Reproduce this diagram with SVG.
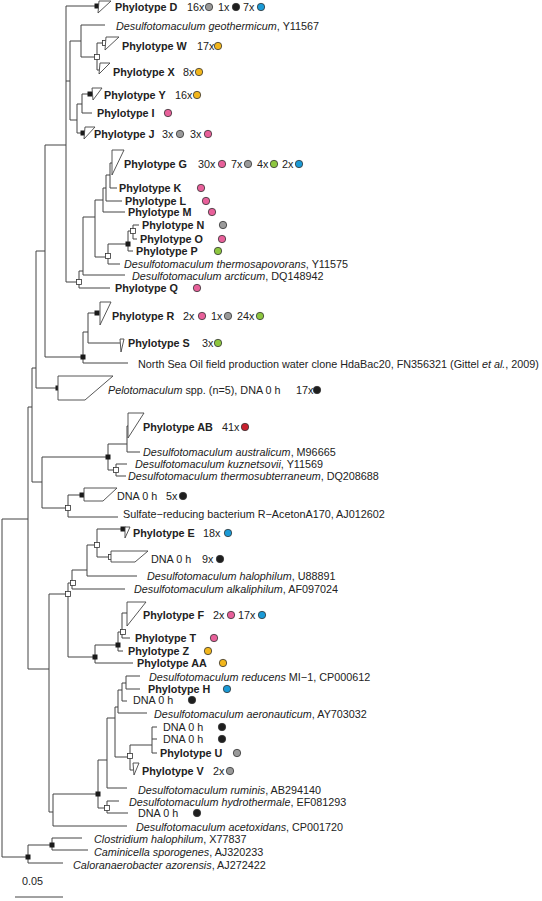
<svg xmlns="http://www.w3.org/2000/svg" width="542" height="901" viewBox="0 0 542 901">
<style>
text{font-family:"Liberation Sans",Arial,sans-serif;font-size:10.8px;fill:#222}
.b{font-weight:bold}
.i{font-style:italic}
.br{fill:none;stroke:#444;stroke-width:1}
.tri{fill:#fff;stroke:#444;stroke-width:0.9}
.sf{fill:#1a1a1a}
.so{fill:#fff;stroke:#333;stroke-width:0.8}
circle{stroke:#333;stroke-width:0.8}
.pk{fill:#e8609a}.gy{fill:#9a9a9a}.bk{fill:#1e1e1e}.bl{fill:#1a9ad6}.ye{fill:#f2b61c}.gn{fill:#8dc63f}.rd{fill:#c8202e}
</style>
<g id="connectors">
<path class="br" d="M66 6V282M66 6H97M66 81H70M70 41V120M70 41H81M81 25V57M81 25H105M81 57H97M97 43V70M97 43H105M97 70H100M70 120H77M77 104V133M77 104H82M82 94V113M82 94H90M82 113H92M77 133H83
M66 282H79M79 271V288M79 288H110M79 271H83M83 217V275M83 275H125M83 217H95M95 200V257M95 200H103M95 257H108M103 188V212M103 212H125M103 188H106M106 175V201M106 201H122M106 175H110M110 163V188M110 188H117M110 163H112
M108 244V264M108 264H120M108 244H128M128 231V251M128 251H133M128 231H133M133 225V239M133 225H139M133 239H137
M45 145V357M45 145H66M45 357H83M83 332V363M83 363H128M83 332H88M88 313V343M88 313H97M88 343H120
M36 251V388M36 251H45M36 388H58M32 368V482M32 368H36M28 407V669M28 407H32M2 519V857M2 519H28M2 857H28
M32 482H42M42 457V508M42 457H108M42 508H68M108 444V470M108 444H127M127 426V452M127 452H140M127 426H128M108 470H116M116 464V476M116 464H127M116 476H126M68 495V517M68 495H82M68 517H118
M28 669H49M49 594V812M49 594H68M68 583V657M68 583H72M72 570V589M72 570H87M87 545V576M87 576H137M87 545H97M97 529V557M97 529H123M97 557H111M72 589H125
M68 657H95M95 645V663M95 663H133M95 645H118M118 632V651M118 651H123M118 632H122M122 613V638M122 638H130M122 613H127
M49 812H53M53 794V826M53 826H127M53 794H98M98 760V808M98 760H107M107 718V788M107 788H127M98 808H107M107 801V813M107 801H119M107 813H128
M107 718H115M115 707V757M115 707H118M118 690V713M118 713H147M118 690H122M122 683V701M122 701H127M122 683H126M126 676V689M126 676H140M126 689H140
M115 757H130M130 745V770M130 770H133M130 745H152M152 727V753M152 727H157M152 739H157M152 753H157
M28 845V863M28 845H52M28 863H63M52 838V850M52 838H82M52 850H88"/>
</g>
<g id="internal-nodes">
<rect class="sf" x="94.5" y="3.5" width="5" height="5"/>
<rect class="so" x="94.5" y="54.5" width="5" height="5"/>
<rect class="so" x="102.5" y="40.5" width="5" height="5"/>
<rect class="sf" x="87.5" y="91.5" width="5" height="5"/>
<rect class="sf" x="80.5" y="130.5" width="5" height="5"/>
<rect class="so" x="76.5" y="279.5" width="5" height="5"/>
<rect class="so" x="105.5" y="253.5" width="5" height="5"/>
<rect class="sf" x="125.5" y="241.5" width="5" height="5"/>
<rect class="so" x="130.5" y="228.5" width="5" height="5"/>
<rect class="sf" x="94.5" y="310.5" width="5" height="5"/>
<rect class="sf" x="80.5" y="354.5" width="5" height="5"/>
<rect class="sf" x="55.5" y="385.5" width="5" height="5"/>
<rect class="sf" x="105.5" y="454.5" width="5" height="5"/>
<rect class="so" x="113.5" y="467.5" width="5" height="5"/>
<rect class="sf" x="79.5" y="492.5" width="5" height="5"/>
<rect class="so" x="65.5" y="505.5" width="5" height="5"/>
<rect class="sf" x="120.5" y="526.5" width="5" height="5"/>
<rect class="so" x="94.5" y="542.5" width="5" height="5"/>
<rect class="so" x="108.5" y="554.5" width="5" height="5"/>
<rect class="so" x="70.5" y="580.5" width="5" height="5"/>
<rect class="so" x="65.5" y="591.5" width="5" height="5"/>
<rect class="sf" x="92.5" y="654.5" width="5" height="5"/>
<rect class="sf" x="115.5" y="642.5" width="5" height="5"/>
<rect class="so" x="120.5" y="629.5" width="5" height="5"/>
<rect class="so" x="127.5" y="753.5" width="5" height="5"/>
<rect class="sf" x="95.5" y="791.5" width="5" height="5"/>
<rect class="so" x="104.5" y="805.5" width="5" height="5"/>
<rect class="sf" x="49.5" y="842.5" width="5" height="5"/>
<rect class="sf" x="25.5" y="854.5" width="5" height="5"/>
</g>
<g id="phylotype-d"><polygon class="tri" points="99,1 111,1 98,13"/><text class="b" x="115" y="11">Phylotype D</text><text x="187" y="11">16x</text><circle class="gy" cx="209" cy="7" r="3.7"/><text x="218" y="11">1x</text><circle class="bk" cx="236" cy="7" r="3.7"/><text x="243" y="11">7x</text><circle class="bl" cx="261" cy="7" r="3.7"/></g>
<g id="d-geothermicum"><text x="116" y="30"><tspan class="i">Desulfotomaculum geothermicum</tspan>, Y11567</text></g>
<g id="phylotype-w"><polygon class="tri" points="106,37 119,37 105,50"/><text class="b" x="122" y="50">Phylotype W</text><text x="197" y="50">17x</text><circle class="ye" cx="218" cy="46" r="3.7"/></g>
<g id="phylotype-x"><polygon class="tri" points="100,63 110,63 99,74"/><text class="b" x="113" y="76">Phylotype X</text><text x="183" y="76">8x</text><circle class="ye" cx="199" cy="72" r="3.7"/></g>
<g id="phylotype-y"><polygon class="tri" points="92,88 102,88 93,100"/><text class="b" x="104" y="99">Phylotype Y</text><text x="175" y="99">16x</text><circle class="ye" cx="197" cy="95" r="3.7"/></g>
<g id="phylotype-i"><text class="b" x="97" y="117">Phylotype I</text><circle class="pk" cx="168" cy="113" r="3.7"/></g>
<g id="phylotype-j"><polygon class="tri" points="85,127 95,127 84,139"/><text class="b" x="94" y="138">Phylotype J</text><text x="162" y="138">3x</text><circle class="gy" cx="180" cy="134" r="3.7"/><text x="190" y="138">3x</text><circle class="pk" cx="208" cy="134" r="3.7"/></g>
<g id="phylotype-g"><polygon class="tri" points="112,150 124,150 112,175"/><text class="b" x="124" y="168">Phylotype G</text><text x="198" y="168">30x</text><circle class="pk" cx="222" cy="164" r="3.7"/><text x="231" y="168">7x</text><circle class="gy" cx="248" cy="164" r="3.7"/><text x="257" y="168">4x</text><circle class="gn" cx="274" cy="164" r="3.7"/><text x="282" y="168">2x</text><circle class="bl" cx="299" cy="164" r="3.7"/></g>
<g id="phylotype-k"><text class="b" x="119" y="192">Phylotype K</text><circle class="pk" cx="201" cy="188" r="3.7"/></g>
<g id="phylotype-l"><text class="b" x="125" y="205">Phylotype L</text><circle class="pk" cx="206" cy="201" r="3.7"/></g>
<g id="phylotype-m"><text class="b" x="128" y="216">Phylotype M</text><circle class="pk" cx="212" cy="212" r="3.7"/></g>
<g id="phylotype-n"><text class="b" x="142" y="229">Phylotype N</text><circle class="gy" cx="223" cy="225" r="3.7"/></g>
<g id="phylotype-o"><text class="b" x="140" y="243">Phylotype O</text><circle class="pk" cx="222" cy="239" r="3.7"/></g>
<g id="phylotype-p"><text class="b" x="136" y="255">Phylotype P</text><circle class="gn" cx="218" cy="251" r="3.7"/></g>
<g id="d-thermosapovorans"><text x="124" y="268"><tspan class="i">Desulfotomaculum thermosapovorans</tspan>, Y11575</text></g>
<g id="d-arcticum"><text x="132" y="280"><tspan class="i">Desulfotomaculum arcticum</tspan>, DQ148942</text></g>
<g id="phylotype-q"><text class="b" x="115" y="292">Phylotype Q</text><circle class="pk" cx="197" cy="288" r="3.7"/></g>
<g id="phylotype-r"><polygon class="tri" points="100,302 111,302 100,325"/><text class="b" x="112" y="320">Phylotype R</text><text x="183" y="320">2x</text><circle class="pk" cx="202" cy="316" r="3.7"/><text x="211" y="320">1x</text><circle class="gy" cx="228" cy="316" r="3.7"/><text x="237" y="320">24x</text><circle class="gn" cx="260" cy="316" r="3.7"/></g>
<g id="phylotype-s"><polygon class="tri" points="120,339 124,339 121,352"/><text class="b" x="128" y="347">Phylotype S</text><text x="202" y="347">3x</text><circle class="gn" cx="218" cy="343" r="3.7"/></g>
<g id="north-sea-clone"><text x="138" y="368">North Sea Oil field production water clone HdaBac20, FN356321 (Gittel <tspan class="i">et al.</tspan>, 2009)</text></g>
<g id="pelotomaculum"><polygon class="tri" points="58,376 113,376 85,400 58,400"/><text x="108" y="394"><tspan class="i">Pelotomaculum</tspan> spp. (n=5), DNA 0 h</text><text x="296" y="394">17x</text><circle class="bk" cx="317" cy="390" r="3.7"/></g>
<g id="phylotype-ab"><polygon class="tri" points="128,413 144,413 128,438"/><text class="b" x="143" y="431">Phylotype AB</text><text x="222" y="431">41x</text><circle class="rd" cx="245" cy="427" r="3.7"/></g>
<g id="d-australicum"><text x="143" y="456"><tspan class="i">Desulfotomaculum australicum</tspan>, M96665</text></g>
<g id="d-kuznetsovii"><text x="135" y="468"><tspan class="i">Desulfotomaculum kuznetsovii</tspan>, Y11569</text></g>
<g id="d-thermosubterraneum"><text x="128" y="480"><tspan class="i">Desulfotomaculum thermosubterraneum</tspan>, DQ208688</text></g>
<g id="dna-5x"><polygon class="tri" points="84,488 117,488 103,501 84,501"/><text x="117" y="500">DNA 0 h</text><text x="166" y="500">5x</text><circle class="bk" cx="183" cy="496" r="3.7"/></g>
<g id="sulfate-reducing"><text x="123" y="518">Sulfate−reducing bacterium R−AcetonA170, AJ012602</text></g>
<g id="phylotype-e"><polygon class="tri" points="125,527 130,527 125,538"/><text class="b" x="133" y="537">Phylotype E</text><text x="203" y="537">18x</text><circle class="bl" cx="228" cy="533" r="3.7"/></g>
<g id="dna-9x"><polygon class="tri" points="111,551 148,551 135,562 111,562"/><text x="151" y="563">DNA 0 h</text><text x="202" y="563">9x</text><circle class="bk" cx="220" cy="559" r="3.7"/></g>
<g id="d-halophilum"><text x="147" y="580"><tspan class="i">Desulfotomaculum halophilum</tspan>, U88891</text></g>
<g id="d-alkaliphilum"><text x="134" y="593"><tspan class="i">Desulfotomaculum alkaliphilum</tspan>, AF097024</text></g>
<g id="phylotype-f"><polygon class="tri" points="127,602 146,602 127,626"/><text class="b" x="143" y="619">Phylotype F</text><text x="213" y="619">2x</text><circle class="pk" cx="231" cy="615" r="3.7"/><text x="238" y="619">17x</text><circle class="bl" cx="262" cy="615" r="3.7"/></g>
<g id="phylotype-t"><text class="b" x="135" y="642">Phylotype T</text><circle class="pk" cx="214" cy="638" r="3.7"/></g>
<g id="phylotype-z"><text class="b" x="128" y="655">Phylotype Z</text><circle class="ye" cx="208" cy="651" r="3.7"/></g>
<g id="phylotype-aa"><text class="b" x="137" y="667">Phylotype AA</text><circle class="ye" cx="223" cy="663" r="3.7"/></g>
<g id="d-reducens"><text x="149" y="681"><tspan class="i">Desulfotomaculum reducens</tspan> MI−1, CP000612</text></g>
<g id="phylotype-h"><text class="b" x="148" y="693">Phylotype H</text><circle class="bl" cx="227" cy="689" r="3.7"/></g>
<g id="dna-h1"><text x="133" y="704">DNA 0 h</text><circle class="bk" cx="192" cy="700" r="3.7"/></g>
<g id="d-aeronauticum"><text x="154" y="718"><tspan class="i">Desulfotomaculum aeronauticum</tspan>, AY703032</text></g>
<g id="dna-h2"><text x="163" y="731">DNA 0 h</text><circle class="bk" cx="222" cy="727" r="3.7"/></g>
<g id="dna-h3"><text x="163" y="743">DNA 0 h</text><circle class="bk" cx="222" cy="739" r="3.7"/></g>
<g id="phylotype-u"><text class="b" x="160" y="757">Phylotype U</text><circle class="gy" cx="237" cy="753" r="3.7"/></g>
<g id="phylotype-v"><polygon class="tri" points="133,763 139,763 134,775"/><text class="b" x="142" y="775">Phylotype V</text><text x="213" y="775">2x</text><circle class="gy" cx="230" cy="771" r="3.7"/></g>
<g id="d-ruminis"><text x="138" y="794"><tspan class="i">Desulfotomaculum ruminis</tspan>, AB294140</text></g>
<g id="d-hydrothermale"><text x="129" y="806"><tspan class="i">Desulfotomaculum hydrothermale</tspan>, EF081293</text></g>
<g id="dna-h4"><text x="138" y="817">DNA 0 h</text><circle class="bk" cx="197" cy="813" r="3.7"/></g>
<g id="d-acetoxidans"><text x="136" y="831"><tspan class="i">Desulfotomaculum acetoxidans</tspan>, CP001720</text></g>
<g id="clostridium"><text x="94" y="843"><tspan class="i">Clostridium halophilum</tspan>, X77837</text></g>
<g id="caminicella"><text x="94" y="856"><tspan class="i">Caminicella sporogenes</tspan>, AJ320233</text></g>
<g id="caloranaerobacter"><text x="73" y="869"><tspan class="i">Caloranaerobacter azorensis</tspan>, AJ272422</text></g>
<g id="scale-bar"><text x="22" y="885">0.05</text><path class="br" d="M15 897H63"/></g>
</svg>
